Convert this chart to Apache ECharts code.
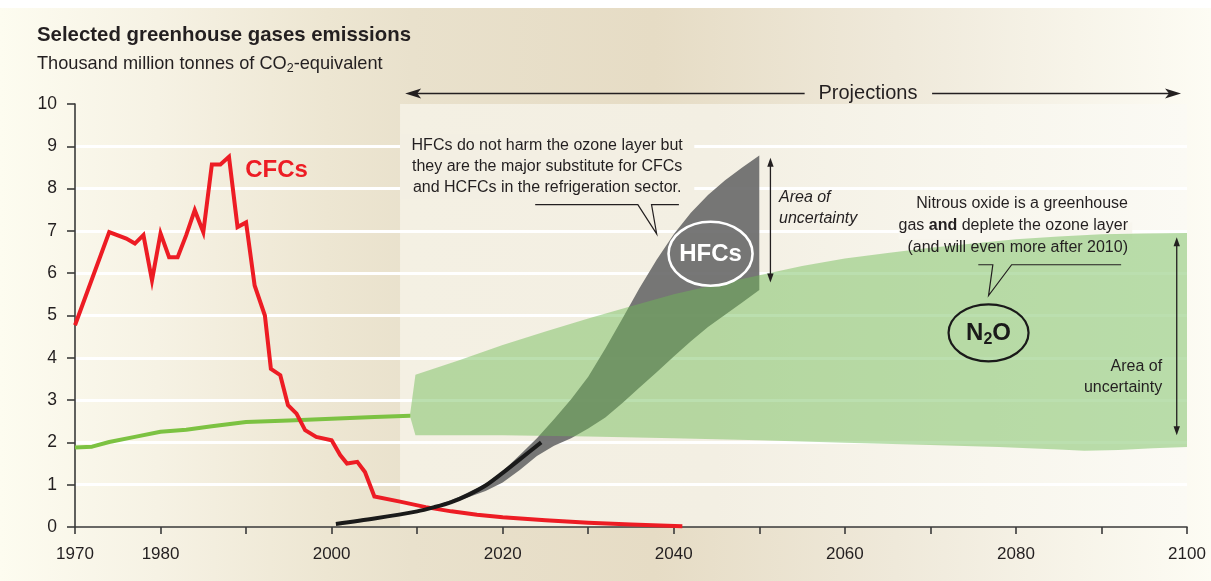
<!DOCTYPE html>
<html>
<head>
<meta charset="utf-8">
<script src="https://cdn.jsdelivr.net/npm/echarts@6/dist/echarts.min.js"></script>
<style>
html,body{margin:0;padding:0;background:#ffffff;}
#chart{width:1211px;height:581px;}
</style>
</head>
<body>
<div id="chart"></div>
<script>
// ---------------- data ----------------
const xTickLabels = [1970, 1980, 2000, 2020, 2040, 2060, 2080, 2100];

const cfcYears  = [1970,1974,1976,1977,1978,1979,1980,1981,1982,1983,1984,1985,1986,1987,1988,1989,1990,1991,1992.2,1992.9,1994,1994.9,1995.9,1996.9,1998.2,2000,2001,2001.8,2003,2003.9,2005,2008,2011,2014,2017,2020,2025,2030,2035,2041];
const cfcValues = [4.77,6.97,6.82,6.70,6.90,5.83,6.94,6.38,6.38,6.90,7.49,6.97,8.57,8.57,8.75,7.09,7.20,5.71,5.00,3.74,3.59,2.88,2.68,2.29,2.13,2.05,1.70,1.50,1.54,1.30,0.72,0.60,0.47,0.37,0.29,0.23,0.16,0.10,0.06,0.02];

const n2oYears  = [1970,1972,1974,1977,1980,1983,1986,1990,1995,2000,2005,2009.2];
const n2oValues = [1.88,1.90,2.01,2.13,2.25,2.30,2.38,2.48,2.52,2.56,2.60,2.63];

const hfcYears  = [2000.5,2005,2010,2012,2014,2016,2018,2020,2022,2024.5];
const hfcValues = [0.07,0.20,0.37,0.47,0.59,0.76,0.98,1.28,1.60,2.00];

const hfcBandYears = [2011,2013,2015,2018,2020,2022,2024,2026,2028,2030,2032,2034,2036,2038,2040,2042,2044,2046,2048,2050];
const hfcBandUpper = [0.43,0.56,0.72,1.02,1.32,1.70,2.10,2.55,3.02,3.55,4.22,4.93,5.65,6.32,6.92,7.43,7.85,8.20,8.50,8.78];
const hfcBandLower = [0.43,0.52,0.63,0.85,1.05,1.35,1.68,1.92,2.10,2.33,2.59,2.93,3.30,3.66,4.03,4.39,4.73,5.02,5.31,5.60];

const n2oBandStart = [2009.15, 2.63];
const n2oUpperYears = [2009.8,2015,2020,2025,2030,2035,2040,2045,2050,2055,2060,2065,2070,2075,2080,2085,2090,2095,2100];
const n2oUpper      = [3.60,3.95,4.30,4.62,4.93,5.22,5.50,5.73,5.95,6.17,6.35,6.48,6.60,6.70,6.80,6.87,6.92,6.94,6.95];
const n2oLowerYears = [2009.8,2020,2030,2040,2050,2060,2070,2078,2085,2088,2092,2096,2100];
const n2oLower      = [2.17,2.17,2.14,2.10,2.05,1.99,1.94,1.89,1.83,1.80,1.82,1.86,1.89];

const projectionStart = 2008;

// ---------------- styling ----------------
const SANS = "'Liberation Sans', Arial, Helvetica, sans-serif";
const INK = '#231f20';

const zip = (xs, ys) => xs.map((x, i) => [x, ys[i]]);

function bandRenderer(upX, upY, loX, loY, tip, fill) {
  return function (params, api) {
    const pts = [];
    if (tip) pts.push(api.coord(tip));
    for (let i = 0; i < upX.length; i++) pts.push(api.coord([upX[i], upY[i]]));
    for (let i = loX.length - 1; i >= 0; i--) pts.push(api.coord([loX[i], loY[i]]));
    return { type: 'polygon', shape: { points: pts }, style: { fill: fill } };
  };
}

const splitColors = ['rgba(0,0,0,0)'];
for (let i = 1; i < 10; i++) splitColors.push('#ffffff');
splitColors.push('rgba(0,0,0,0)');

const option = {
  animation: false,
  grid: { left: 75, right: 24, top: 104, bottom: 54, containLabel: false },
  xAxis: {
    type: 'value', min: 1970, max: 2100, interval: 10,
    axisLine: { show: true, onZero: false, lineStyle: { color: '#3a3a3a', width: 1.6 } },
    axisTick: { show: true, length: 7, lineStyle: { color: '#3a3a3a', width: 1.6 } },
    axisLabel: {
      margin: 19, fontSize: 17, fontFamily: SANS, color: INK,
      formatter: v => xTickLabels.indexOf(v) >= 0 ? String(v) : ''
    },
    splitLine: { show: false }
  },
  yAxis: {
    type: 'value', min: 0, max: 10, interval: 1,
    axisLine: { show: true, lineStyle: { color: '#3a3a3a', width: 1.6 } },
    axisTick: { show: true, length: 8, lineStyle: { color: '#3a3a3a', width: 1.6 } },
    axisLabel: { margin: 18, fontSize: 17.5, fontFamily: SANS, color: INK },
    splitLine: { show: true, lineStyle: { color: splitColors, width: 3 } }
  },
  series: [
    { type: 'custom', name: 'HFC range', z: 2, silent: true, data: [[2030, 5]],
      renderItem: bandRenderer(hfcBandYears, hfcBandUpper, hfcBandYears, hfcBandLower, null, 'rgba(104,104,104,0.9)') },
    { type: 'custom', name: 'N2O range', z: 3, silent: true, data: [[2050, 4]],
      renderItem: bandRenderer(n2oUpperYears, n2oUpper, n2oLowerYears, n2oLower, n2oBandStart, 'rgba(110,186,84,0.47)') },
    { type: 'line', name: 'N2O', z: 4, data: zip(n2oYears, n2oValues), showSymbol: false, symbol: 'none',
      lineStyle: { color: '#7cc242', width: 4 } },
    { type: 'line', name: 'CFCs', z: 5, data: zip(cfcYears, cfcValues), showSymbol: false, symbol: 'none',
      lineStyle: { color: '#ed1c24', width: 4, join: 'miter' } },
    { type: 'line', name: 'HFCs', z: 6, data: zip(hfcYears, hfcValues), showSymbol: false, symbol: 'none', smooth: 0.3,
      lineStyle: { color: '#1a1a1a', width: 4 } }
  ]
};

const chart = echarts.init(document.getElementById('chart'), null, { renderer: 'canvas' });
chart.setOption(option);

const P = (x, y) => chart.convertToPixel({ gridIndex: 0 }, [x, y]);
const W = 1211, H = 581;
const g = [];

// background
g.push({ type: 'rect', z: -20, silent: true, shape: { x: 0, y: 8, width: W, height: H - 8 },
  style: { fill: { type: 'linear', x: 0, y: 0, x2: 1, y2: 0, colorStops: [
    { offset: 0, color: '#fdfcf0' }, { offset: 0.13, color: '#f6f2e4' }, { offset: 0.27, color: '#ede6d2' },
    { offset: 0.34, color: '#e9e1cc' }, { offset: 0.54, color: '#e6dcc5' }, { offset: 0.74, color: '#efe9da' },
    { offset: 1, color: '#fdfcf4' } ] } } });

// projections panel
const pa = P(projectionStart, 10), pb = P(2100, 0);
g.push({ type: 'rect', z: -19, silent: true, shape: { x: pa[0], y: pa[1], width: pb[0] - pa[0], height: pb[1] - pa[1] },
  style: { fill: { type: 'linear', x: 0, y: 0, x2: 1, y2: 0, colorStops: [
    { offset: 0, color: '#f4f0e3' }, { offset: 0.4, color: '#f3efe3' }, { offset: 0.75, color: '#f8f6ed' },
    { offset: 1, color: '#fbfaf4' } ] } } });

// masks behind annotation texts (hide grid lines)
const m1a = P(projectionStart, 9.3), m1b = P(2042.4, 7.75);
g.push({ type: 'rect', z: 1, silent: true, shape: { x: m1a[0], y: m1a[1], width: m1b[0] - m1a[0], height: m1b[1] - m1a[1] },
  style: { fill: '#f3efe3' } });
const m2a = P(2066.3, 7.2), m2b = P(2093.6, 6.8);
g.push({ type: 'rect', z: 1, silent: true, shape: { x: m2a[0], y: m2a[1], width: m2b[0] - m2a[0], height: m2b[1] - m2a[1] },
  style: { fill: '#f8f6ee' } });

// title + subtitle
g.push({ type: 'text', z: 10, silent: true, style: { x: 37, y: 35, text: 'Selected greenhouse gases emissions',
  fontSize: 20.4, fontWeight: 'bold', fontFamily: SANS, fill: INK, align: 'left', verticalAlign: 'middle' } });
g.push({ type: 'text', z: 10, silent: true, style: { x: 37, y: 64,
  text: '{a|Thousand million tonnes of CO}{s|2}{a|-equivalent}', align: 'left', verticalAlign: 'middle',
  rich: { a: { fontSize: 18.2, fontFamily: SANS, fill: INK, lineHeight: 22 },
          s: { fontSize: 12.5, fontFamily: SANS, fill: INK, lineHeight: 14, verticalAlign: 'bottom' } } } });

function lineEl(a, b, w, color) {
  return { type: 'line', z: 10, silent: true, shape: { x1: a[0], y1: a[1], x2: b[0], y2: b[1] },
    style: { stroke: color || INK, lineWidth: w || 1.3 } };
}
function hHead(tip, dir) { // dir -1 : pointing left, +1 : pointing right
  const x = tip[0], y = tip[1];
  return { type: 'polygon', z: 10, silent: true,
    shape: { points: [[x, y], [x - dir * 16, y - 5], [x - dir * 12, y], [x - dir * 16, y + 5]] }, style: { fill: INK } };
}
function vHead(tip, dir) { // dir -1 : pointing up, +1 : pointing down
  const x = tip[0], y = tip[1];
  return { type: 'polygon', z: 10, silent: true,
    shape: { points: [[x, y], [x - 3.2, y - dir * 9], [x + 3.2, y - dir * 9]] }, style: { fill: INK } };
}

// Projections arrow
const pl = P(2008.6, 10.25), pl2 = P(2055.3, 10.25), pt = P(2062.7, 10.25), pr1 = P(2070.2, 10.25), pr = P(2099.3, 10.25);
g.push(lineEl([pl[0] + 10, pl[1]], pl2, 1.6));
g.push(lineEl(pr1, [pr[0] - 10, pr[1]], 1.6));
g.push(hHead(pl, -1));
g.push(hHead(pr, 1));
g.push({ type: 'text', z: 10, silent: true, style: { x: pt[0], y: pt[1], text: 'Projections', fontSize: 20, fontFamily: SANS,
  fill: INK, align: 'center', verticalAlign: 'middle' } });

// CFCs label
const cl = P(1989.9, 8.43);
g.push({ type: 'text', z: 10, silent: true, style: { x: cl[0], y: cl[1], text: 'CFCs', fontSize: 24, fontWeight: 'bold',
  fontFamily: SANS, fill: '#ed1c24', align: 'left', verticalAlign: 'middle' } });

// HFC note
const hn = P(2025.2, 8.52);
g.push({ type: 'text', z: 10, silent: true, style: { x: hn[0], y: hn[1],
  text: 'HFCs do not harm the ozone layer but\nthey are the major substitute for CFCs\nand HCFCs in the refrigeration sector.',
  fontSize: 16, lineHeight: 21, fontFamily: SANS, fill: INK, align: 'center', verticalAlign: 'middle' } });
g.push({ type: 'polyline', z: 10, silent: true,
  shape: { points: [P(2023.8, 7.62), P(2035.8, 7.62), P(2038.0, 6.93), P(2037.4, 7.62), P(2040.6, 7.62)] },
  style: { stroke: INK, lineWidth: 1.2, fill: null } });

// HFC ellipse
const he = P(2044.3, 6.46);
g.push({ type: 'ellipse', z: 10, silent: true, shape: { cx: he[0], cy: he[1], rx: 42, ry: 32 },
  style: { fill: null, stroke: '#ffffff', lineWidth: 2.6 } });
g.push({ type: 'text', z: 10, silent: true, style: { x: he[0], y: he[1] + 1, text: 'HFCs', fontSize: 24, fontWeight: 'bold',
  fontFamily: SANS, fill: '#ffffff', align: 'center', verticalAlign: 'middle' } });

// HFC uncertainty arrow
const ha1 = P(2051.3, 8.73), ha2 = P(2051.3, 5.78);
g.push(lineEl([ha1[0], ha1[1] + 6], [ha2[0], ha2[1] - 6], 1.3));
g.push(vHead(ha1, -1));
g.push(vHead(ha2, 1));
const hu = P(2052.3, 7.54);
g.push({ type: 'text', z: 10, silent: true, style: { x: hu[0], y: hu[1], text: 'Area of\nuncertainty',
  fontSize: 16, lineHeight: 21, fontStyle: 'italic', fontFamily: SANS, fill: INK, align: 'left', verticalAlign: 'middle' } });

// N2O note
const nn = P(2093.1, 7.13);
g.push({ type: 'text', z: 10, silent: true, style: { x: nn[0], y: nn[1],
  text: '{n|Nitrous oxide is a greenhouse}\n{n|gas }{b|and}{n| deplete the ozone layer}\n{n|(and will even more after 2010)}',
  align: 'right', verticalAlign: 'middle',
  rich: { n: { fontSize: 16, fontFamily: SANS, fill: INK, lineHeight: 21.7 },
          b: { fontSize: 16, fontFamily: SANS, fontWeight: 'bold', fill: INK, lineHeight: 21.7 } } } });
g.push({ type: 'polyline', z: 10, silent: true,
  shape: { points: [P(2075.6, 6.2), P(2077.3, 6.2), P(2076.8, 5.47), P(2079.5, 6.2), P(2092.3, 6.2)] },
  style: { stroke: INK, lineWidth: 1.2, fill: null } });

// N2O ellipse
const ne = P(2076.8, 4.59);
g.push({ type: 'ellipse', z: 10, silent: true, shape: { cx: ne[0], cy: ne[1], rx: 40, ry: 28.5 },
  style: { fill: null, stroke: '#1a1a1a', lineWidth: 2.2 } });
g.push({ type: 'text', z: 10, silent: true, style: { x: ne[0], y: ne[1] + 1,
  text: '{a|N}{s|2}{a|O}', align: 'center', verticalAlign: 'middle',
  rich: { a: { fontSize: 24, fontWeight: 'bold', fontFamily: SANS, fill: '#1a1a1a', lineHeight: 28 },
          s: { fontSize: 16, fontWeight: 'bold', fontFamily: SANS, fill: '#1a1a1a', lineHeight: 18, verticalAlign: 'bottom' } } } });

// N2O uncertainty arrow
const na1 = P(2098.8, 6.85), na2 = P(2098.8, 2.17);
g.push(lineEl([na1[0], na1[1] + 6], [na2[0], na2[1] - 6], 1.3));
g.push(vHead(na1, -1));
g.push(vHead(na2, 1));
const nu = P(2097.1, 3.545);
g.push({ type: 'text', z: 10, silent: true, style: { x: nu[0], y: nu[1], text: 'Area of\nuncertainty',
  fontSize: 16, lineHeight: 21.6, fontFamily: SANS, fill: INK, align: 'right', verticalAlign: 'middle' } });

chart.setOption({ graphic: { elements: g } });
</script>
</body>
</html>
